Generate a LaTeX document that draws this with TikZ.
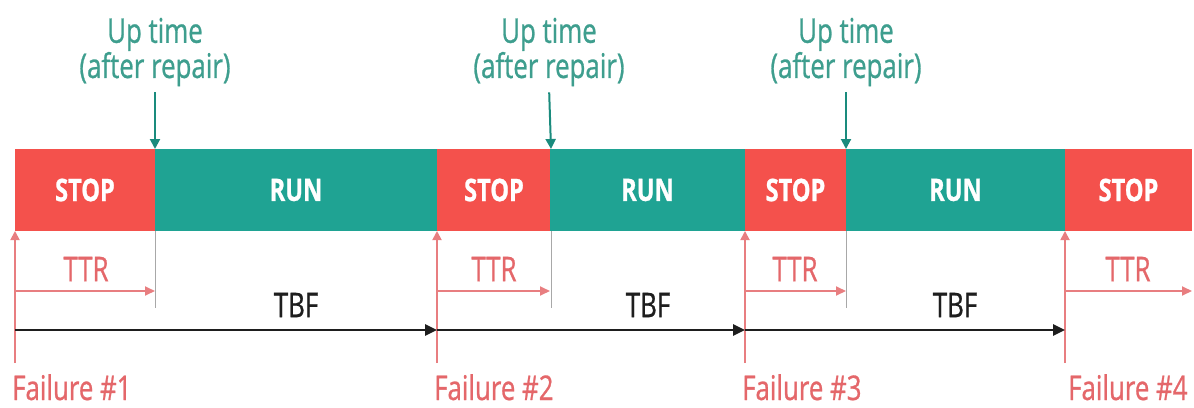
\documentclass[tikz,border=0pt]{standalone}
\usepackage{fontspec}
\setmainfont{Open Sans}[FakeStretch=0.76, FakeBold=0.8]
\usetikzlibrary{arrows.meta}
\definecolor{stopred}{HTML}{F4514C}
\definecolor{runteal}{HTML}{1FA393}
\definecolor{uptext}{HTML}{3E9E8E}
\definecolor{failred}{HTML}{E4676A}
\definecolor{tickgray}{HTML}{A8A8A8}
\definecolor{tbfblack}{HTML}{1E1E1E}
\begin{document}
\begin{tikzpicture}[x=1pt,y=-1pt,
  seg/.style={minimum height=82pt, inner sep=0pt, outer sep=0pt, anchor=north west,
    text=white, font=\bfseries\fontsize{31}{31}\selectfont},
  stopseg/.style={seg, fill=stopred},
  runseg/.style={seg, fill=runteal},
  uplabel/.style={align=center, text=uptext, inner sep=0pt,
    font=\fontsize{34}{34}\selectfont},
  uparrow/.style={draw=runteal!85!black, line width=2pt, shorten <=6pt,
    -{Triangle[length=10pt,width=10pt]}},
  faillabel/.style={anchor=base west, text=failred, inner sep=0pt,
    font=\fontsize{34}{34}\selectfont},
  failline/.style={draw=failred!85, line width=1.8pt,
    -{Triangle[length=9pt,width=9pt]}},
  ttrlabel/.style={text=failred, inner sep=0pt, font=\fontsize{34}{34}\selectfont},
  ttrarrow/.style={draw=failred!85, line width=1.8pt,
    -{Triangle[length=10pt,width=9pt]}},
  tbflabel/.style={text=tbfblack, inner sep=0pt, font=\fontsize{34}{34}\selectfont},
  tbfarrow/.style={draw=tbfblack, line width=2.6pt,
    -{Triangle[length=12pt,width=11pt]}},
  tick/.style={draw=tickgray, line width=0.9pt}]
\useasboundingbox (0,0) rectangle (1194,407);

% timeline bar
\node[stopseg, minimum width=140pt] (s1) at (15,149)   {STOP};
\node[runseg,  minimum width=282pt] (r1) at (155,149)  {RUN};
\node[stopseg, minimum width=114pt] (s2) at (437,149)  {STOP};
\node[runseg,  minimum width=195pt] (r2) at (550,149)  {RUN};
\node[stopseg, minimum width=101pt] (s3) at (745,149)  {STOP};
\node[runseg,  minimum width=219pt] (r3) at (846,149)  {RUN};
\node[stopseg, minimum width=127pt] (s4) at (1065,149) {STOP};

% up-time markers above the bar
\node[uplabel] (u1) at (155,52) {Up time\\(after repair)};
\node[uplabel] (u2) at (549,52) {Up time\\(after repair)};
\node[uplabel] (u3) at (846,52) {Up time\\(after repair)};
\draw[uparrow] (u1.south) -- (s1.north east);
\draw[uparrow] (u2.south) -- (s2.north east);
\draw[uparrow] (u3.south) -- (s3.north east);

% end-of-repair ticks
\draw[tick] (s1.south east) -- ++(0,77);
\draw[tick] (s2.south east) -- ++(0,77);
\draw[tick] (s3.south east) -- ++(0,77);

% failure markers
\node[faillabel] (f1) at (12,400)   {Failure \#1};
\node[faillabel] (f2) at (434,400)  {Failure \#2};
\node[faillabel] (f3) at (742,400)  {Failure \#3};
\node[faillabel] (f4) at (1068,400) {Failure \#4};
\coordinate (p1) at (15,363);
\coordinate (p2) at (437,363);
\coordinate (p3) at (745,363);
\coordinate (p4) at (1065,363);
\draw[failline] (p1) -- (s1.south west);
\draw[failline] (p2) -- (s2.south west);
\draw[failline] (p3) -- (s3.south west);
\draw[failline] (p4) -- (s4.south west);

% time to repair
\coordinate (t1a) at (15,291);   \coordinate (t1b) at (155,291);
\coordinate (t2a) at (437,291);  \coordinate (t2b) at (550,291);
\coordinate (t3a) at (745,291);  \coordinate (t3b) at (846,291);
\coordinate (t4a) at (1065,291); \coordinate (t4b) at (1192,291);
\node[ttrlabel] (ttr1) at (86,269)   {TTR};
\node[ttrlabel] (ttr2) at (494,269)  {TTR};
\node[ttrlabel] (ttr3) at (795,269)  {TTR};
\node[ttrlabel] (ttr4) at (1128,269) {TTR};
\draw[ttrarrow] (t1a) -- (t1b);
\draw[ttrarrow] (t2a) -- (t2b);
\draw[ttrarrow] (t3a) -- (t3b);
\draw[ttrarrow] (t4a) -- (t4b);

% time between failures
\coordinate (b1) at (15,330);
\coordinate (b2) at (437,330);
\coordinate (b3) at (745,330);
\coordinate (b4) at (1065,330);
\node[tbflabel] (tbf1) at (296,305) {TBF};
\node[tbflabel] (tbf2) at (648,305) {TBF};
\node[tbflabel] (tbf3) at (955,305) {TBF};
\draw[tbfarrow] (b1) -- (b2);
\draw[tbfarrow] (b2) -- (b3);
\draw[tbfarrow] (b3) -- (b4);
\end{tikzpicture}
\end{document}
